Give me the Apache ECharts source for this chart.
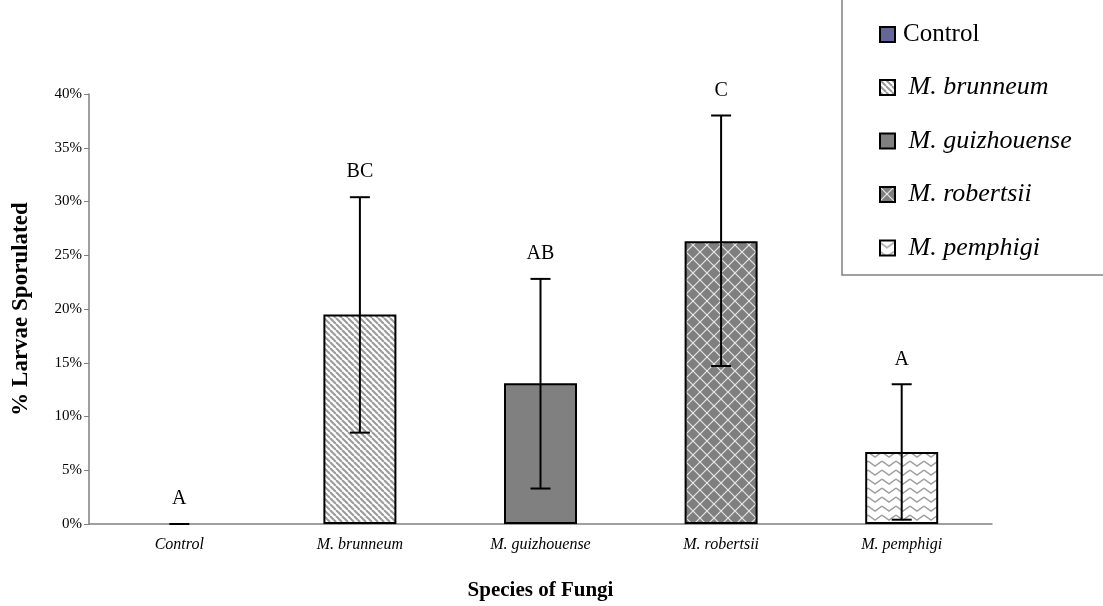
<!DOCTYPE html>
<html>
<head>
<meta charset="utf-8">
<script src="https://cdn.jsdelivr.net/npm/echarts@6/dist/echarts.min.js"></script>
<style>html,body{margin:0;padding:0;background:#fff}#c{width:1103px;height:606px}</style>
</head>
<body>
<div id="c"></div>
<script>
const categories = ['Control', 'M. brunneum', 'M. guizhouense', 'M. robertsii', 'M. pemphigi'];
const axisLabels = ['Control', 'M. brunneum', 'M. guizhouense', 'M. robertsii', 'M. pemphigi'];
const means = [0, 19.5, 13.1, 26.3, 6.7];
const errLow = [0, 8.5, 3.3, 14.7, 0.4];
const errHigh = [0, 30.4, 22.8, 38.0, 13.0];
const letters = ['A', 'BC', 'AB', 'C', 'A'];

function makePattern(kind) {
  const c = document.createElement('canvas');
  const ctx = c.getContext('2d');
  if (kind === 'stripe') {
    c.width = 6; c.height = 6;
    ctx.fillStyle = '#ffffff'; ctx.fillRect(0, 0, 6, 6);
    ctx.strokeStyle = '#999999'; ctx.lineWidth = 2;
    for (let k = -6; k <= 12; k += 6) {
      ctx.beginPath(); ctx.moveTo(k, 0); ctx.lineTo(k + 6, 6); ctx.stroke();
    }
  } else if (kind === 'lattice') {
    c.width = 14; c.height = 14;
    ctx.fillStyle = '#7f7f7f'; ctx.fillRect(0, 0, 14, 14);
    ctx.strokeStyle = '#e6e6e6'; ctx.lineWidth = 1.2;
    for (let k = -14; k <= 28; k += 14) {
      ctx.beginPath(); ctx.moveTo(k, 0); ctx.lineTo(k + 14, 14); ctx.stroke();
      ctx.beginPath(); ctx.moveTo(k, 14); ctx.lineTo(k + 14, 0); ctx.stroke();
    }
  } else if (kind === 'wave') {
    c.width = 14; c.height = 9;
    ctx.fillStyle = '#ffffff'; ctx.fillRect(0, 0, 14, 9);
    ctx.strokeStyle = '#a0a0a0'; ctx.lineWidth = 1.5;
    ctx.beginPath(); ctx.moveTo(0, 2); ctx.lineTo(7, 7); ctx.lineTo(14, 2); ctx.stroke();
  }
  return { image: c, repeat: 'repeat' };
}

const fills = ['#666699', makePattern('stripe'), '#808080', makePattern('lattice'), makePattern('wave')];

const barSeries = categories.map((name, i) => ({
  name: name,
  type: 'bar',
  stack: 'all',
  barWidth: 73,
  data: means.map((v, j) => (j === i ? (v === 0 ? { value: v, itemStyle: { borderWidth: 0 } } : v) : '-')),
  itemStyle: { color: fills[i], borderColor: '#000', borderWidth: 2 },
  silent: true
}));

const errData = means.map((v, i) => [i, errLow[i], errHigh[i]]);

const errSeries = {
  type: 'custom',
  name: 'err',
  data: errData,
  z: 10,
  renderItem: function (params, api) {
    const x = api.value(0);
    const lo = api.coord([x, api.value(1)]);
    const hi = api.coord([x, api.value(2)]);
    const w = 10;
    const st = { stroke: '#000', lineWidth: 2 };
    return {
      type: 'group',
      children: [
        { type: 'line', shape: { x1: lo[0], y1: lo[1], x2: hi[0], y2: hi[1] }, style: st },
        { type: 'line', shape: { x1: hi[0] - w, y1: hi[1], x2: hi[0] + w, y2: hi[1] }, style: st },
        { type: 'line', shape: { x1: lo[0] - (api.value(1) === api.value(2) ? 7 : w), y1: lo[1], x2: lo[0] + (api.value(1) === api.value(2) ? 7 : w), y2: lo[1] }, style: st },
        { type: 'text', x: hi[0], y: hi[1] - 25,
          style: { text: letters[params.dataIndex], fill: '#000', font: '20px "Liberation Serif"', align: 'center', verticalAlign: 'middle' } }
      ]
    };
  }
};

const chart = echarts.init(document.getElementById('c'), null, { renderer: 'canvas' });
chart.setOption({
  animation: false,
  backgroundColor: '#fff',
  grid: { left: 89, right: 111, top: 94, bottom: 80, containLabel: false },
  legend: {
    data: categories,
    orient: 'vertical',
    left: 842,
    top: -2,
    padding: [24, 60, 14, 37],
    itemGap: 27.5,
    itemWidth: 15,
    itemHeight: 15,
    icon: 'rect',
    borderColor: '#808080',
    borderWidth: 1.5,
    backgroundColor: '#fff',
    selectedMode: false,
    formatter: function (name) {
      return name === 'Control' ? '{r|Control}' : '{i| ' + name + '}';
    },
    textStyle: {
      lineHeight: 25,
      rich: {
        r: { fontFamily: 'Liberation Serif', fontSize: 25, color: '#000', lineHeight: 25, padding: [0, 0, 0, 3] },
        i: { fontFamily: 'Liberation Serif', fontSize: 26, fontStyle: 'italic', color: '#000', lineHeight: 25, padding: [0, 0, 0, 2] }
      }
    }
  },
  xAxis: {
    type: 'category',
    data: axisLabels,
    name: 'Species of Fungi',
    nameLocation: 'middle',
    nameGap: 56,
    nameTextStyle: { fontFamily: 'Liberation Serif', fontSize: 21, fontWeight: 'bold', color: '#000' },
    axisLine: { lineStyle: { color: '#808080', width: 1.5 } },
    axisTick: { length: 5, lineStyle: { color: '#808080' } },
    axisLabel: { margin: 13, fontFamily: 'Liberation Serif', fontSize: 16, fontStyle: 'italic', color: '#000' }
  },
  yAxis: {
    type: 'value',
    min: 0,
    max: 40,
    interval: 5,
    name: '% Larvae Sporulated',
    nameLocation: 'middle',
    nameGap: 56,
    nameTextStyle: { fontFamily: 'Liberation Serif', fontSize: 23, fontWeight: 'bold', color: '#000' },
    splitLine: { show: false },
    axisLine: { show: true, lineStyle: { color: '#808080', width: 1.5 } },
    axisTick: { show: true, length: 5, lineStyle: { color: '#808080' } },
    axisLabel: { margin: 7, fontFamily: 'Liberation Serif', fontSize: 15, color: '#000', formatter: function (v) { return v + '%'; } }
  },
  series: barSeries.concat([errSeries])
});
</script>
</body>
</html>
